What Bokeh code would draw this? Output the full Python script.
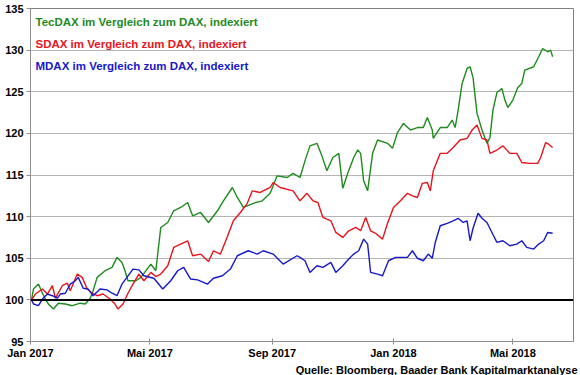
import pandas as pd
from bokeh.plotting import figure
from bokeh.models import (FixedTicker, CustomJSTickFormatter, Span, Label, Title)
from bokeh.embed import file_html
from bokeh.resources import INLINE

# ---------------- data ----------------
tec_dates = ["2017-01-02","2017-01-04","2017-01-09","2017-01-13","2017-01-16","2017-01-19","2017-01-24","2017-01-29",
             "2017-02-05","2017-02-12","2017-02-20","2017-02-25","2017-03-02","2017-03-05","2017-03-09","2017-03-17",
             "2017-03-24","2017-03-29","2017-04-03","2017-04-06","2017-04-09","2017-04-17","2017-04-22","2017-05-02",
             "2017-05-07","2017-05-12","2017-05-19","2017-05-25","2017-06-01","2017-06-08","2017-06-13","2017-06-21",
             "2017-06-29","2017-07-08","2017-07-14","2017-07-23","2017-07-28","2017-08-03","2017-08-13","2017-08-22",
             "2017-08-30","2017-09-06","2017-09-16","2017-09-22","2017-09-29","2017-10-04","2017-10-09","2017-10-16",
             "2017-10-21","2017-10-26","2017-11-01","2017-11-07","2017-11-11","2017-11-16","2017-11-22","2017-11-26",
             "2017-11-29","2017-12-02","2017-12-06","2017-12-11","2017-12-16","2017-12-26","2017-12-31","2018-01-05",
             "2018-01-11","2018-01-18","2018-01-25","2018-01-31","2018-02-04","2018-02-09","2018-02-10","2018-02-17",
             "2018-02-24","2018-03-01","2018-03-04","2018-03-07","2018-03-11","2018-03-16","2018-03-19","2018-03-22",
             "2018-03-26","2018-03-31","2018-04-05","2018-04-08","2018-04-11","2018-04-15","2018-04-20","2018-04-23",
             "2018-04-26","2018-05-01","2018-05-06","2018-05-10","2018-05-13","2018-05-22","2018-05-27","2018-05-31",
             "2018-06-05","2018-06-08","2018-06-10"]
tec_values = [100.0,101.3,101.9,100.8,100.1,99.5,98.9,99.6,
              99.5,99.3,99.6,99.5,100.2,101.1,102.7,103.5,
              103.9,105.1,104.5,103.5,102.3,102.3,102.7,104.3,
              103.5,108.7,109.3,110.7,111.1,111.7,110.1,110.5,
              109.3,110.7,111.9,113.5,112.3,111.1,111.6,111.9,
              112.8,114.9,114.7,115.2,114.7,116.7,118.5,118.8,
              117.3,115.5,117.1,117.6,113.4,115.2,117.1,118.0,
              117.6,114.3,113.1,117.6,119.2,118.8,118.2,120.1,
              121.2,120.4,120.7,120.7,121.9,120.4,119.4,120.7,
              120.7,121.6,120.7,122.8,126.0,127.8,128.0,126.7,
              122.4,120.4,118.8,119.5,122.8,124.9,125.4,124.0,
              123.1,124.0,125.5,126.0,127.6,128.0,129.2,130.2,
              129.8,130.0,129.2]

sdax_dates = ["2017-01-02","2017-01-06","2017-01-13","2017-01-18","2017-01-23","2017-01-26","2017-02-02","2017-02-07",
              "2017-02-10","2017-02-17","2017-02-22","2017-02-27","2017-03-04","2017-03-09","2017-03-15","2017-03-22",
              "2017-03-27","2017-03-30","2017-04-04","2017-04-09","2017-04-14","2017-04-20","2017-04-25","2017-05-02",
              "2017-05-07","2017-05-12","2017-05-19","2017-05-25","2017-06-01","2017-06-08","2017-06-13","2017-06-21",
              "2017-06-29","2017-07-04","2017-07-11","2017-07-18","2017-07-24","2017-07-31","2017-08-07","2017-08-12",
              "2017-08-20","2017-08-30","2017-09-02","2017-09-09","2017-09-22","2017-09-29","2017-10-06","2017-10-12",
              "2017-10-17","2017-10-22","2017-10-30","2017-11-04","2017-11-11","2017-11-17","2017-11-24","2017-11-29",
              "2017-12-04","2017-12-09","2017-12-14","2017-12-21","2017-12-26","2018-01-01","2018-01-08","2018-01-15",
              "2018-01-20","2018-01-25","2018-01-30","2018-02-04","2018-02-07","2018-02-10","2018-02-17","2018-02-24",
              "2018-03-02","2018-03-09","2018-03-16","2018-03-21","2018-03-26","2018-03-31","2018-04-05","2018-04-08",
              "2018-04-15","2018-04-21","2018-04-28","2018-05-05","2018-05-10","2018-05-18","2018-05-26","2018-05-29",
              "2018-06-03","2018-06-06","2018-06-10"]
sdax_values = [100.0,100.7,101.3,100.7,101.7,100.2,101.7,102.0,
               101.1,103.1,102.7,101.3,100.8,100.5,100.7,100.1,
               99.5,98.9,99.5,100.8,101.9,103.1,102.3,103.3,
               102.8,103.1,104.1,106.3,106.7,107.1,105.3,105.5,
               104.6,105.9,105.5,107.6,109.5,110.5,111.6,113.1,
               112.9,113.5,114.1,113.5,113.1,111.9,112.8,111.9,
               111.7,109.9,109.5,108.1,107.5,108.3,108.7,108.3,
               109.9,108.3,108.0,107.3,109.2,111.1,111.9,112.8,
               112.5,112.3,114.0,114.1,113.1,115.5,117.6,117.6,
               118.3,119.2,119.4,120.4,121.0,119.4,119.2,117.6,
               118.0,118.5,117.6,117.6,116.5,116.4,116.4,117.1,
               118.9,118.7,118.3]

mdax_dates = ["2017-01-02","2017-01-04","2017-01-09","2017-01-13","2017-01-18","2017-01-23","2017-01-28","2017-01-31",
              "2017-02-05","2017-02-10","2017-02-15","2017-02-18","2017-02-23","2017-02-28","2017-03-05","2017-03-12",
              "2017-03-19","2017-03-24","2017-03-29","2017-04-03","2017-04-08","2017-04-14","2017-04-20","2017-04-25",
              "2017-05-05","2017-05-14","2017-05-22","2017-05-29","2017-06-04","2017-06-11","2017-06-18","2017-06-28",
              "2017-07-04","2017-07-13","2017-07-21","2017-07-28","2017-08-08","2017-08-17","2017-08-23","2017-09-02",
              "2017-09-12","2017-09-26","2017-09-29","2017-10-04","2017-10-09","2017-10-16","2017-10-22","2017-10-30",
              "2017-11-04","2017-11-11","2017-11-17","2017-11-22","2017-11-27","2017-12-02","2017-12-06","2017-12-09",
              "2017-12-16","2017-12-21","2017-12-27","2018-01-03","2018-01-10","2018-01-15","2018-01-20","2018-01-25",
              "2018-01-31","2018-02-05","2018-02-09","2018-02-12","2018-02-17","2018-02-24","2018-03-02","2018-03-07",
              "2018-03-12","2018-03-16","2018-03-19","2018-03-22","2018-03-27","2018-03-31","2018-04-05","2018-04-10",
              "2018-04-15","2018-04-21","2018-04-28","2018-05-05","2018-05-10","2018-05-15","2018-05-22","2018-05-27",
              "2018-06-01","2018-06-05","2018-06-10"]
mdax_values = [100.0,99.5,99.3,100.1,100.7,100.5,100.2,100.7,
               100.8,101.9,102.3,102.7,101.4,101.3,100.5,101.3,
               101.2,100.8,100.5,101.9,102.7,103.7,103.6,102.9,
               102.6,101.3,102.3,103.5,103.9,102.5,102.4,101.9,
               102.6,102.9,103.7,105.3,105.9,105.5,105.9,105.5,
               104.3,105.3,105.1,104.7,103.3,104.1,103.9,104.5,
               103.3,104.1,104.9,105.5,105.9,107.3,106.7,103.3,
               103.1,102.9,104.7,105.1,105.1,105.1,105.9,105.0,
               104.7,105.5,105.0,106.9,108.9,109.2,109.5,109.8,
               109.3,109.5,107.1,108.6,110.4,109.8,109.3,108.1,
               106.9,107.1,106.5,106.7,107.1,106.3,106.1,106.7,
               107.1,108.1,108.0]

series_names = ["TecDAX im Vergleich zum DAX, indexiert",
                "SDAX im Vergleich zum DAX, indexiert",
                "MDAX im Vergleich zum DAX, indexiert"]
y_ticks = [95, 100, 105, 110, 115, 120, 125, 130, 135]
x_tick_dates = ["2017-01-01", "2017-05-01", "2017-09-01", "2018-01-01", "2018-05-01"]
source_text = "Quelle: Bloomberg, Baader Bank Kapitalmarktanalyse"

GREEN = "#1f8a1f"
RED = "#e8141c"
BLUE = "#1818c8"
FONT = "Liberation Sans"

def ts(lst):
    return pd.to_datetime(lst)

x_start = pd.Timestamp("2017-01-01")
x_end = pd.Timestamp("2018-07-01")

p = figure(width=580, height=375, x_axis_type="datetime",
           x_range=(x_start, x_end), y_range=(95, 135),
           output_backend="svg", toolbar_location=None,
           min_border_left=30, min_border_right=7, min_border_top=8, min_border_bottom=20)

p.background_fill_color = "white"
p.border_fill_color = "white"
p.outline_line_color = "#808080"
p.outline_line_width = 1

p.xgrid.grid_line_color = None
p.ygrid.grid_line_color = "#b4b4b4"
p.ygrid.grid_line_width = 1

p.yaxis.ticker = FixedTicker(ticks=y_ticks)
p.xaxis.ticker = FixedTicker(ticks=[pd.Timestamp(d).value / 1e6 for d in x_tick_dates])
p.xaxis.formatter = CustomJSTickFormatter(code="""
const d = new Date(tick);
const m = ["Jan","Feb","Mrz","Apr","Mai","Jun","Jul","Aug","Sep","Okt","Nov","Dez"][d.getUTCMonth()];
return m + " " + d.getUTCFullYear();
""")

for ax in (p.xaxis, p.yaxis):
    ax.axis_line_color = "#909090"
    ax.major_tick_line_color = "#909090"
    ax.minor_tick_line_color = None
    ax.major_label_text_font = FONT
    ax.major_label_text_font_style = "bold"
    ax.major_label_text_font_size = "11px"
    ax.major_label_text_color = "black"

p.yaxis.major_tick_out = 4
p.yaxis.major_tick_in = 0
p.yaxis.major_label_standoff = 3
p.xaxis.major_tick_out = 3
p.xaxis.major_tick_in = 3
p.xaxis.major_label_standoff = 2

p.line(ts(tec_dates), tec_values, line_color=GREEN, line_width=1.4)
p.line(ts(sdax_dates), sdax_values, line_color=RED, line_width=1.4)
p.line(ts(mdax_dates), mdax_values, line_color=BLUE, line_width=1.4)

p.add_layout(Span(location=100, dimension="width", line_color="black", line_width=2))

label_x = pd.Timestamp("2017-01-06")
for name, col, yv in zip(series_names, [GREEN, RED, BLUE], [133.4, 130.7, 128.1]):
    p.add_layout(Label(x=label_x, y=yv, text=name, text_color=col,
                       text_font=FONT, text_font_style="bold", text_font_size="11.5px",
                       text_baseline="middle", text_align="left"))

p.add_layout(Title(text=source_text, align="right", text_font=FONT, text_font_style="bold",
                   text_font_size="11px", text_color="black", standoff=0, offset=-4), "below")

open("out.html", "w").write(file_html(p, INLINE))
